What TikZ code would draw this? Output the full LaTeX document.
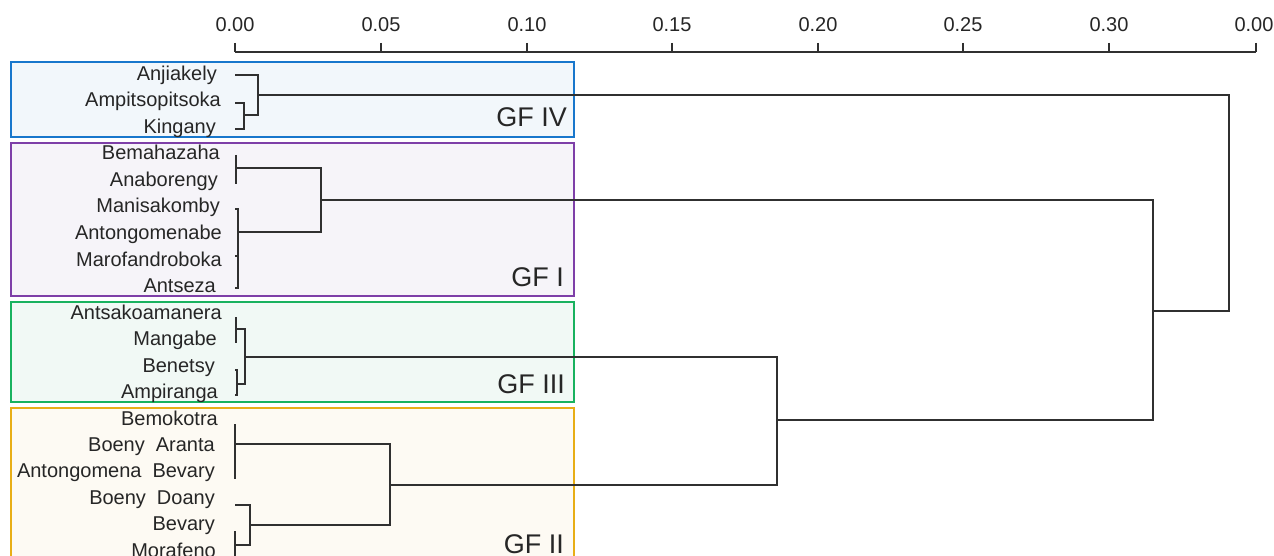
\documentclass[tikz,border=0pt]{standalone}
\usepackage{fontspec}
\setmainfont{Liberation Sans}
\definecolor{txt}{HTML}{262626}
\definecolor{lnk}{HTML}{303030}
\definecolor{blueB}{RGB}{24,119,204}
\definecolor{blueF}{RGB}{242,247,251}
\definecolor{purB}{RGB}{126,63,168}
\definecolor{purF}{RGB}{246,244,249}
\definecolor{grnB}{RGB}{25,178,95}
\definecolor{grnF}{RGB}{241,249,245}
\definecolor{orgB}{RGB}{232,174,22}
\definecolor{orgF}{RGB}{253,250,243}
\begin{document}
\begin{tikzpicture}[x=1pt,y=-1pt,
  lbl/.style={anchor=base east,inner sep=0pt,font=\fontsize{20}{24}\selectfont,text=txt},
  gflbl/.style={anchor=base east,inner sep=0pt,font=\fontsize{27}{32}\selectfont,text=txt},
  ticklbl/.style={anchor=base,inner sep=0pt,font=\fontsize{20}{24}\selectfont,text=txt},
  link/.style={draw=lnk,line width=1.3pt},
  axisline/.style={draw=lnk,line width=1.3pt},
  grp/.style={line width=2pt}]
\clip (0,0) rectangle (1274,556);
\fill[white] (0,0) rectangle (1274,556);

% group boxes
\draw[grp,draw=blueB,fill=blueF] (11,62) rectangle (574,137);
\draw[grp,draw=purB,fill=purF] (11,143) rectangle (574,296);
\draw[grp,draw=grnB,fill=grnF] (11,302) rectangle (574,402);
\draw[grp,draw=orgB,fill=orgF] (11,408) rectangle (574,570);

% axis
\draw[axisline] (235,52) -- (1256,52);
\foreach \x/\t/\n in {235/0.00/t0,381/0.05/t1,527/0.10/t2,672/0.15/t3,818/0.20/t4,963/0.25/t5,1109/0.30/t6}{
  \draw[axisline] (\x,43) -- (\x,52);
  \node[ticklbl] (\n) at (\x,32) {\t};
}
\draw[axisline] (1256,43) -- (1256,52);
\node[ticklbl] (t7) at (1254,32) {0.00};

% leaf labels
\node[lbl] (l1) at (217,81) {Anjiakely};
\node[lbl] (l2) at (221,107) {Ampitsopitsoka};
\node[lbl] (l3) at (216,134) {Kingany};
\node[lbl] (l4) at (220,160) {Bemahazaha};
\node[lbl] (l5) at (218,187) {Anaborengy};
\node[lbl] (l6) at (220,213) {Manisakomby};
\node[lbl] (l7) at (222,240) {Antongomenabe};
\node[lbl] (l8) at (222,266) {Marofandroboka};
\node[lbl] (l9) at (216,292) {Antseza};
\node[lbl] (l10) at (222,319) {Antsakoamanera};
\node[lbl] (l11) at (217,345) {Mangabe};
\node[lbl] (l12) at (215,372) {Benetsy};
\node[lbl] (l13) at (218,398) {Ampiranga};
\node[lbl] (l14) at (218,425) {Bemokotra};
\node[lbl] (l15) at (215,451) {Boeny\hspace{0.55em}Aranta};
\node[lbl] (l16) at (215,477) {Antongomena\hspace{0.55em}Bevary};
\node[lbl] (l17) at (215,504) {Boeny\hspace{0.55em}Doany};
\node[lbl] (l18) at (215,530) {Bevary};
\node[lbl] (l19) at (216,557) {Morafeno};

% group labels
\node[gflbl] (g4) at (567,127) {GF IV};
\node[gflbl] (g1) at (564,286) {GF I};
\node[gflbl] (g3) at (565,393) {GF III};
\node[gflbl] (g2) at (564,553) {GF II};

% dendrogram: GF IV
\coordinate (j4a) at (244,115);
\coordinate (j4b) at (258,95);
\draw[link] (235,103) -| (244,129) -- (235,129);
\draw[link] (235,75) -| (258,115) -- (j4a);
\coordinate (jroot) at (1229,311);
\draw[link] (j4b) -| (jroot) -- (1153,311);
% GF I
\coordinate (j1a) at (236,168);
\coordinate (j1b) at (238,232);
\coordinate (j1c) at (321,200);
\draw[link] (236,155) -- (236,184);
\draw[link] (j1a) -| (321,232) -- (j1b);
\draw[link] (235,209) -| (238,288) -- (235,288);
\draw[link] (235,256) -- (238,256);
\coordinate (jmid) at (1153,420);
\draw[link] (j1c) -| (jmid) -- (777,420);
% GF III
\coordinate (j3a) at (245,357);
\draw[link] (236,317) -- (236,343);
\draw[link] (236,329) -| (245,384) -- (237,384);
\draw[link] (235,370) -| (237,395) -- (235,395);
\coordinate (j23) at (777,420);
\draw[link] (j3a) -| (777,485) -- (390,485);
% GF II
\draw[link] (235,424) -- (235,479);
\draw[link] (235,444) -| (390,525) -- (250,525);
\draw[link] (235,505) -| (250,545) -- (235,545);
\draw[link] (235,531) -- (235,560);
\end{tikzpicture}
\end{document}
